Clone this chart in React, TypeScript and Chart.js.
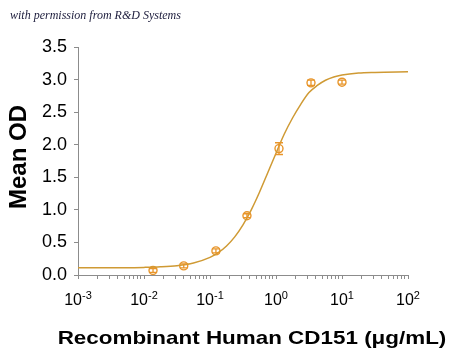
import React, { useEffect, useRef } from 'react';
import { Chart, registerables } from 'chart.js';
Chart.register(...registerables);

// Measured points (concentration in µg/mL, mean OD, error)
const concentrations = [0.0137, 0.04, 0.123, 0.363, 1.11, 3.39, 10.0];
const meanOD = [0.07, 0.14, 0.37, 0.91, 1.94, 2.95, 2.96];
const errorOD = [0.03, 0.03, 0.03, 0.03, 0.09, 0.04, 0.03];

// Fitted curve
const curveX = [0.001, 0.00316, 0.01, 0.0178, 0.0316, 0.0562, 0.1, 0.133, 0.178, 0.237, 0.316, 0.422, 0.562, 0.75, 1, 1.33, 1.78, 2.37, 3.16, 4.22, 5.62, 7.5, 10, 17.8, 31.6, 100];
const curveY = [0.11, 0.11, 0.117, 0.125, 0.143, 0.184, 0.27, 0.342, 0.445, 0.585, 0.77, 1.0, 1.27, 1.57, 1.87, 2.16, 2.41, 2.62, 2.8, 2.91, 2.99, 3.04, 3.07, 3.1, 3.11, 3.12];

// Axis ticks
const xTickValues = [0.001, 0.01, 0.1, 1, 10, 100];
const xTickExponents = ['-3', '-2', '-1', '0', '1', '2'];
const xMinorMultipliers = [2, 3, 4, 5, 6, 7, 8, 9];

const yTitle = 'Mean OD';
const xTitle = 'Recombinant Human CD151 (\u03BCg/mL)';
const credit = 'with permission from R&D Systems';

const CURVE_COLOR = '#CF9A34';
const POINT_COLOR = '#E8952A';
const AXIS_COLOR = '#8c8c8c';
const FONT = '"Liberation Sans", Arial, sans-serif';

export default function App() {
  const ref = useRef<HTMLCanvasElement>(null);

  useEffect(() => {
    const canvas = ref.current!;

    const errorBars = {
      id: 'errorBars',
      afterDatasetsDraw(chart: any) {
        const { ctx, scales } = chart;
        const xs = scales.x;
        const ys = scales.y;
        ctx.save();
        ctx.strokeStyle = POINT_COLOR;
        ctx.lineWidth = 1.3;
        concentrations.forEach((c, i) => {
          const px = xs.getPixelForValue(c);
          const top = ys.getPixelForValue(meanOD[i] + errorOD[i]);
          const bot = ys.getPixelForValue(meanOD[i] - errorOD[i]);
          ctx.beginPath();
          ctx.moveTo(px, top);
          ctx.lineTo(px, bot);
          ctx.moveTo(px - 4, top);
          ctx.lineTo(px + 4, top);
          ctx.moveTo(px - 4, bot);
          ctx.lineTo(px + 4, bot);
          ctx.stroke();
        });
        ctx.restore();
      },
    };

    const decorations = {
      id: 'decorations',
      afterDraw(chart: any) {
        const { ctx, scales } = chart;
        const xs = scales.x;
        ctx.save();
        ctx.fillStyle = '#000';
        // x tick labels with superscript exponents
        xTickValues.forEach((v, i) => {
          const px = xs.getPixelForValue(v);
          ctx.font = `16px ${FONT}`;
          const w1 = ctx.measureText('10').width;
          ctx.font = `11px ${FONT}`;
          const w2 = ctx.measureText(xTickExponents[i]).width;
          const start = px - (w1 + w2) / 2;
          ctx.textAlign = 'left';
          ctx.textBaseline = 'alphabetic';
          ctx.font = `16px ${FONT}`;
          ctx.fillText('10', start, 305);
          ctx.font = `11px ${FONT}`;
          ctx.fillText(xTickExponents[i], start + w1, 299);
        });
        // y title
        ctx.save();
        ctx.translate(19, 157);
        ctx.rotate(-Math.PI / 2);
        ctx.font = `bold 24px ${FONT}`;
        ctx.textAlign = 'center';
        ctx.textBaseline = 'middle';
        ctx.fillText(yTitle, 0, 0);
        ctx.restore();
        // x title
        ctx.save();
        ctx.translate(252, 344);
        ctx.scale(1.18, 1);
        ctx.font = `bold 19px ${FONT}`;
        ctx.textAlign = 'center';
        ctx.textBaseline = 'alphabetic';
        ctx.fillText(xTitle, 0, 0);
        ctx.restore();
        // credit line
        ctx.font = 'italic 12px "Liberation Serif", "DejaVu Serif", serif';
        ctx.fillStyle = '#1c1c3c';
        ctx.textAlign = 'left';
        ctx.fillText(credit, 10, 19);
        ctx.restore();
      },
    };

    const chart = new Chart(canvas, {
      type: 'scatter',
      data: {
        datasets: [
          {
            label: 'fit',
            data: curveX.map((x, i) => ({ x, y: curveY[i] })),
            showLine: true,
            borderColor: CURVE_COLOR,
            borderWidth: 1.5,
            pointRadius: 0,
            cubicInterpolationMode: 'monotone',
            fill: false,
          },
          {
            label: 'data',
            data: concentrations.map((x, i) => ({ x, y: meanOD[i] })),
            showLine: false,
            pointStyle: 'circle',
            pointRadius: 4,
            borderColor: POINT_COLOR,
            backgroundColor: 'rgba(0,0,0,0)',
            borderWidth: 1.4,
          },
        ],
      },
      options: {
        responsive: false,
        animation: false,
        devicePixelRatio: 1,
        layout: { padding: { top: 47, right: 42, left: 0, bottom: 0 } },
        plugins: {
          legend: { display: false },
          tooltip: { enabled: false },
        },
        scales: {
          x: {
            type: 'logarithmic',
            min: 0.001,
            max: 100,
            afterBuildTicks(scale: any) {
              const ticks: any[] = [];
              xTickValues.forEach((v, i) => {
                ticks.push({ value: v, major: true });
                if (i < xTickValues.length - 1) {
                  xMinorMultipliers.forEach((m) => ticks.push({ value: v * m, major: false }));
                }
              });
              scale.ticks = ticks;
            },
            afterFit(scale: any) {
              scale.height = 77;
            },
            ticks: { display: false },
            grid: {
              display: true,
              drawOnChartArea: false,
              drawTicks: true,
              tickLength: 4,
              tickColor: AXIS_COLOR,
              tickWidth: 1,
            },
            border: { display: true, color: AXIS_COLOR, width: 1 },
          },
          y: {
            type: 'linear',
            min: 0,
            max: 3.5,
            afterFit(scale: any) {
              scale.width = 78;
            },
            ticks: {
              stepSize: 0.5,
              padding: 7,
              color: '#000',
              font: { family: FONT, size: 18 },
              callback: (v: any) => Number(v).toFixed(1),
            },
            grid: {
              display: true,
              drawOnChartArea: false,
              drawTicks: true,
              tickLength: 4,
              tickColor: AXIS_COLOR,
            },
            border: { display: true, color: AXIS_COLOR, width: 1 },
          },
        },
      },
      plugins: [errorBars, decorations],
    } as any);

    return () => chart.destroy();
  }, []);

  return (
    <div style={{ position: 'fixed', left: 0, top: 0, width: 450, height: 352, background: '#fff' }}>
      <canvas ref={ref} width={450} height={352} style={{ display: 'block', width: 450, height: 352 }} />
    </div>
  );
}
